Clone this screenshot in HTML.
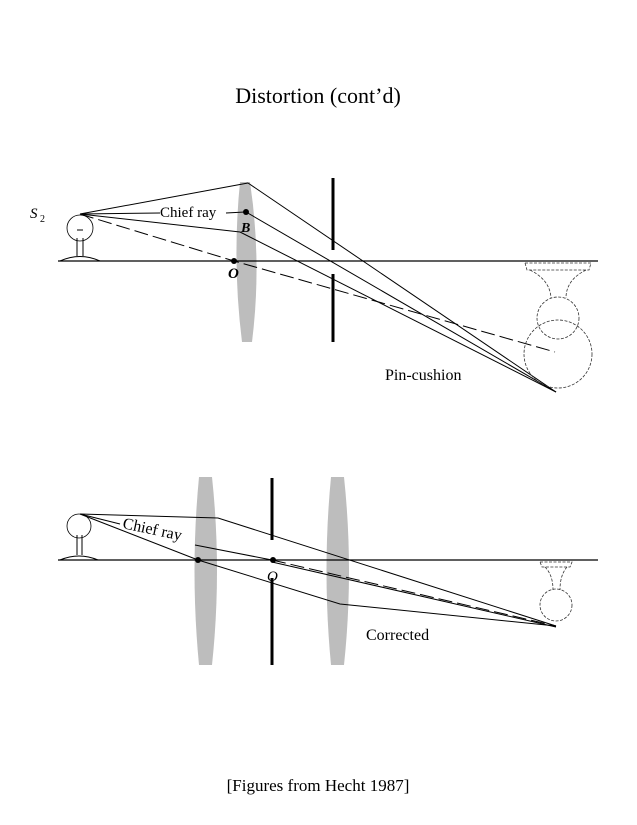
<!DOCTYPE html>
<html><head><meta charset="utf-8"><style>
html,body{margin:0;padding:0;background:#fff;}
svg{display:block}
</style></head><body>
<svg width="637" height="825" viewBox="0 0 637 825" xmlns="http://www.w3.org/2000/svg" font-family="Liberation Serif, serif">
<text x="318" y="103" font-size="22" text-anchor="middle">Distortion (cont’d)</text>

<!-- TOP DIAGRAM -->
<path d="M240 182 L250 182 Q262 262 252 342 L242 342 Q232 262 240 182 Z" fill="#bdbdbd"/>
<line x1="333" y1="178" x2="333" y2="250" stroke="#000" stroke-width="3"/>
<line x1="333" y1="274" x2="333" y2="342" stroke="#000" stroke-width="3"/>
<line x1="58" y1="261" x2="598" y2="261" stroke="#000" stroke-width="1.2"/>
<circle cx="80" cy="228" r="13" fill="none" stroke="#000" stroke-width="0.8"/>
<path d="M77 238 L77 256 M83 238 L83 256 M77 230 L83 230 M60 261 Q80 252 100 261" fill="none" stroke="#000" stroke-width="1"/>
<text x="30" y="218" font-size="15" font-style="italic">S</text><text x="40" y="222" font-size="10">2</text>
<g stroke="#000" stroke-width="1" fill="none">
<line x1="80" y1="214" x2="248" y2="183"/>
<line x1="80" y1="214" x2="160" y2="213"/>
<line x1="226" y1="213" x2="245" y2="212"/>
<line x1="80" y1="214" x2="240" y2="232"/>
<line x1="248" y1="183" x2="556" y2="392"/>
<line x1="246" y1="212" x2="556" y2="392"/>
<line x1="240" y1="232" x2="556" y2="392"/>
<path d="M80 214 L234 261 L555 352" stroke-dasharray="14,5"/>
</g>
<circle cx="246" cy="212" r="3" fill="#000"/>
<circle cx="234" cy="261" r="3" fill="#000"/>
<text x="160" y="217" font-size="15">Chief ray</text>
<text x="241" y="232" font-size="14" font-style="italic" font-weight="bold">B</text>
<text x="228" y="278" font-size="15" font-style="italic" font-weight="bold">O</text>
<g stroke="#333" stroke-width="0.8" fill="none" stroke-dasharray="3,1.5">
<path d="M525 263 L591 263 L589 270 L527 270 Z"/>
<path d="M530 270 Q550 280 551 298 M586 270 Q566 280 566 298"/>
<circle cx="558" cy="318" r="21"/>
<circle cx="558" cy="354" r="34"/>
</g>
<text x="385" y="380" font-size="16">Pin-cushion</text>

<!-- BOTTOM DIAGRAM -->
<path d="M199 477 L212 477 Q222 571 212 665 L199 665 Q190 571 199 477 Z" fill="#bdbdbd"/>
<path d="M331 477 L344 477 Q354 571 344 665 L331 665 Q322 571 331 477 Z" fill="#bdbdbd"/>
<line x1="272" y1="478" x2="272" y2="540" stroke="#000" stroke-width="3"/>
<line x1="272" y1="578" x2="272" y2="665" stroke="#000" stroke-width="3"/>
<line x1="58" y1="560" x2="598" y2="560" stroke="#000" stroke-width="1.2"/>
<circle cx="79" cy="526" r="12" fill="none" stroke="#000" stroke-width="0.8"/>
<path d="M77 535 L77 555 M82 535 L82 555 M60 560 Q79 552 98 560" fill="none" stroke="#000" stroke-width="1"/>
<g stroke="#000" stroke-width="1" fill="none">
<path d="M80 514 L218 518 L556 626"/>
<path d="M80 514 L198 560 L340 604 L556 626"/>
<path d="M80 514 L120 524"/>
<path d="M195 545 L272 560"/>
<path d="M272 560 L556 626" stroke-dasharray="14,5"/>
<path d="M272 562 L556 627"/>
</g>
<circle cx="198" cy="560" r="3" fill="#000"/>
<circle cx="273" cy="560" r="3" fill="#000"/>
<text x="122" y="528" font-size="16" transform="rotate(12 122 528)">Chief ray</text>
<text x="267" y="581" font-size="15" font-style="italic">O</text>
<g stroke="#333" stroke-width="0.8" fill="none" stroke-dasharray="3,1.5">
<path d="M540 562 L572 562 L570 567 L542 567 Z"/>
<path d="M545 567 Q553 575 553 590 M567 567 Q560 575 560 590"/>
<circle cx="556" cy="605" r="16"/>
</g>
<text x="366" y="640" font-size="16">Corrected</text>

<text x="318" y="791" font-size="17" text-anchor="middle">[Figures from Hecht 1987]</text>
</svg>
</body></html>
